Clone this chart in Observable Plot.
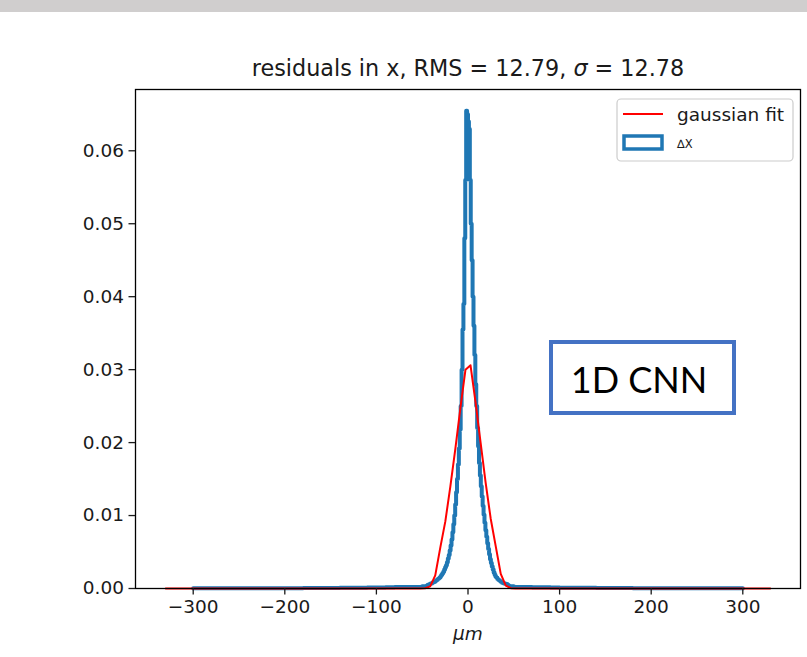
<!DOCTYPE html>
<html><head><meta charset="utf-8">
<script src="https://cdn.jsdelivr.net/npm/d3@7"></script>
<script src="https://cdn.jsdelivr.net/npm/@observablehq/plot@0.6"></script>
<style>body{margin:0;background:#fff} svg{display:block}</style>
</head><body><div id="chart"></div>
<script>
// ---- data ----
const xTicks = [-300, -200, -100, 0, 100, 200, 300];
const yTicks = [0, 0.01, 0.02, 0.03, 0.04, 0.05, 0.06];

// Δx histogram: bin edges (µm) and densities
const blueEdges = [
  -300,-290,-280,-270,-260,-250,-240,-230,-220,-210,-200,-190,-180,-170,-160,-150,-140,-130,-120,-110,-100,-90,-80,-70,-60,-50,
  -45,-44,-43,-42,-41,-40,-39,-38,-37,-36,-35,-34,-33,-32,-31,-30,-29,-28,-27,-26,-25,-24,-23,-22,-21,-20,-19,-18,-17,-16,-15,-14,-13,-12,-11,-10,-9,-8,-7,-6,-5,-4,-3,-2,-1,
  0,1,2,3,4,5,6,7,8,9,10,11,12,13,14,15,16,17,18,19,20,21,22,23,24,25,26,27,28,29,30,31,32,33,34,35,36,37,38,39,40,41,42,43,44,45,
  50,60,70,80,90,100,110,120,130,140,150,160,170,180,190,200,210,220,230,240,250,260,270,280,290,300
];
const blueDensity = [
  0.00002,0.00002,0.00003,0.00002,0.00003,0.00003,0.00003,0.00004,0.00005,0.00004,0.00005,0.00005,0.00006,0.00006,0.00007,0.00008,0.00009,0.0001,0.00012,0.00013,0.00015,0.00017,0.0002,0.00022,0.00022,
  0.0003,
  0.0004,0.0005,0.0005,0.0006,0.0007,0.0007,0.0008,0.0009,0.0009,0.0010,0.0011,0.0012,0.0013,0.0014,0.0015,0.0017,0.0019,0.0021,0.0023,0.0026,0.0029,0.0032,0.0036,0.0041,0.0046,0.0052,0.0059,0.0067,0.0077,0.0088,0.0100,0.0115,0.0132,0.0150,0.0170,0.0192,0.0218,0.0250,0.0300,0.0355,0.0390,0.0480,0.0560,0.0655,
  0.0650,0.0640,0.0630,0.0560,0.0500,0.0450,0.0400,0.0360,0.0320,0.0280,0.0250,0.0220,0.0195,0.0172,0.0155,0.0140,0.0126,0.0113,0.0101,0.0090,0.0080,0.0071,0.0062,0.0054,0.0047,0.0040,0.0035,0.0030,0.0026,0.0022,0.0019,0.0016,0.0015,0.0013,0.0012,0.0011,0.0010,0.0009,0.0008,0.0008,0.0007,0.0007,0.0006,0.0006,0.0005,0.0004,
  0.0003,
  0.00022,0.0002,0.00018,0.00016,0.00014,0.00012,0.00011,0.0001,0.00009,0.00008,0.00007,0.00006,0.00006,0.00005,0.00005,0.00004,0.00004,0.00003,0.00004,0.00003,0.00003,0.00002,0.00003,0.00002,0.00002
];

// gaussian fit curve (bin centres, µm) and values
const fitX = [-330,-52.25,-46.75,-41.25,-35.75,-30.25,-24.75,-19.25,-13.75,-8.25,-2.75,2.75,8.25,13.75,19.25,24.75,30.25,35.75,41.25,46.75,52.25,330];
const fitY = [0,0,0.00003,0.0003,0.0018,0.0056,0.0092,0.0140,0.0192,0.0248,0.0300,0.0306,0.0255,0.0200,0.0145,0.0096,0.0058,0.0020,0.0004,0.00005,0,0];

const titleMain = "residuals in x, RMS = 12.79, ";
const titleSigma = "σ";
const titleRest = " = 12.78";
const xLabel = "μm";
const legendLabels = ["gaussian fit", "∆X"];
const noteText = "1D CNN";

// ---- build ----
const bluePts = [{x: blueEdges[0], y: 0}];
blueDensity.forEach((d, i) => bluePts.push({x: blueEdges[i], y: d}));
bluePts.push({x: blueEdges[blueEdges.length - 1], y: blueDensity[blueDensity.length - 1]});
bluePts.push({x: blueEdges[blueEdges.length - 1], y: 0});
const fitPts = fitX.map((x, i) => ({x, y: fitY[i]}));

const font = "DejaVu Sans";
const chart = Plot.plot({
  width: 807, height: 657,
  marginLeft: 135, marginRight: 7, marginTop: 89, marginBottom: 69,
  x: {domain: [-363, 363]},
  y: {domain: [0, 0.0684]},
  style: {fontFamily: font, fontSize: "18.5px", color: "#1a1a1a", background: "white"},
  marks: [
    Plot.line(bluePts, {x: "x", y: "y", curve: "step-after", stroke: "#1f77b4", strokeWidth: 4}),
    Plot.line(fitPts, {x: "x", y: "y", stroke: "#ff0000", strokeWidth: 2}),
    Plot.frame({stroke: "#000", strokeWidth: 1.3}),
    Plot.axisX({ticks: xTicks, tickSize: 6.5, tickPadding: 5, strokeWidth: 1.3, label: null,
      tickFormat: d => d < 0 ? "\u2212" + Math.abs(d) : String(d)}),
    Plot.axisY({ticks: yTicks, tickSize: 6.5, tickPadding: 5, strokeWidth: 1.3, label: null,
      tickFormat: d3.format(".2f")})
  ]
});
document.getElementById("chart").appendChild(chart);

const svg = d3.select(chart);
// top gray band
svg.append("rect").attr("x", 0).attr("y", 0).attr("width", 807).attr("height", 12).attr("fill", "#d0cece");

// title
const t = svg.append("text").attr("x", 468).attr("y", 76).attr("text-anchor", "middle")
  .attr("font-family", font).attr("font-size", 22.3).attr("fill", "#1a1a1a");
t.append("tspan").text(titleMain);
t.append("tspan").attr("font-style", "italic").text(titleSigma);
t.append("tspan").text(titleRest);

// x axis label
svg.append("text").attr("x", 468).attr("y", 640).attr("text-anchor", "middle")
  .attr("font-family", font).attr("font-size", 18.5).attr("font-style", "italic").attr("fill", "#1a1a1a").text(xLabel);

// legend
const lg = svg.append("g").attr("text-anchor", "start");
lg.append("rect").attr("x", 617).attr("y", 99).attr("width", 176).attr("height", 62).attr("rx", 4)
  .attr("fill", "white").attr("fill-opacity", 0.8).attr("stroke", "#cccccc").attr("stroke-width", 1.2);
lg.append("line").attr("x1", 623).attr("x2", 663).attr("y1", 114).attr("y2", 114).attr("stroke", "#ff0000").attr("stroke-width", 2);
lg.append("rect").attr("x", 624).attr("y", 136).attr("width", 38).attr("height", 13)
  .attr("fill", "none").attr("stroke", "#1f77b4").attr("stroke-width", 3.5);
lg.append("text").attr("x", 677).attr("y", 120.5).attr("text-anchor", "start").attr("font-family", font).attr("font-size", 18.5).attr("fill", "#1a1a1a").text(legendLabels[0]);
lg.append("text").attr("x", 677).attr("y", 147.5).attr("text-anchor", "start").attr("font-family", font).attr("font-size", 11.5).attr("fill", "#1a1a1a").text(legendLabels[1]);

// annotation box
svg.append("rect").attr("x", 551).attr("y", 342).attr("width", 183).attr("height", 71)
  .attr("fill", "white").attr("stroke", "#4472c4").attr("stroke-width", 4);
svg.append("text").attr("x", 639).attr("y", 393).attr("text-anchor", "middle")
  .attr("font-family", "Lato").attr("font-size", 36).attr("fill", "#000").text(noteText);
</script>
</body></html>
